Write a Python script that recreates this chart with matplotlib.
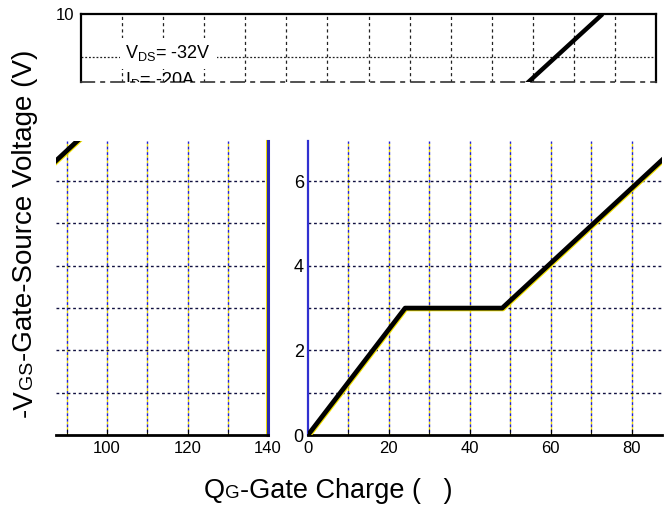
import matplotlib
matplotlib.use("Agg")
import matplotlib.pyplot as plt
import matplotlib.patheffects as pe
from matplotlib.transforms import IdentityTransform

plt.rcParams['font.family'] = ['Liberation Sans', 'DejaVu Sans']
plt.rcParams['mathtext.fontset'] = 'custom'
plt.rcParams['mathtext.rm'] = 'Liberation Sans'
plt.rcParams['mathtext.it'] = 'Liberation Sans'

# ---- data ----
gate_charge = [0, 24, 48, 127]      # nC
vgs = [0, 3, 3, 10]                 # V
left_xticks = [100, 120, 140]
left_xminor = [90, 110, 130]
right_xticks = [0, 20, 40, 60, 80]
right_xminor = [10, 30, 50, 70]
right_yticks = [0, 2, 4, 6]
grid_y = [1, 2, 3, 4, 5, 6]
top_grid_x = [10, 20, 30, 40, 50, 60, 70, 80, 90, 100, 110, 120, 130]
top_grid_y = [9]
vds_label = "V$_{\\rm DS}$= -32V"
id_label = "I$_{\\rm D}$= -20A"

W, H = 670, 509
fig = plt.figure(figsize=(W / 100, H / 100), dpi=100)

def px_axes(x0, y0, x1, y1):
    return fig.add_axes([x0 / W, 1 - y1 / H, (x1 - x0) / W, (y1 - y0) / H])

line_fx = [pe.SimpleLineShadow(offset=(0.6, -0.6), shadow_color='#f0e000', alpha=1.0), pe.Normal()]

# ---- top strip ----
ax_t = px_axes(81, 14, 656, 82)
ax_t.set_xlim(0, 140)
ax_t.set_ylim(8.4, 10.0)
for x in top_grid_x:
    ax_t.axvline(x, color='#222222', lw=0.9, ls=(0, (2.5, 2.5)), zorder=1)
for y in top_grid_y:
    ax_t.axhline(y, color='#222222', lw=0.9, ls=(0, (1.5, 1.5)), zorder=1)
ax_t.plot(gate_charge, vgs, color='black', lw=3.2, solid_capstyle='butt', zorder=3)
ax_t.set_xticks([])
ax_t.set_yticks([10])
ax_t.set_yticklabels(['10'], fontsize=12)
ax_t.tick_params(axis='y', length=0, pad=5)
for s in ['top', 'left', 'right']:
    ax_t.spines[s].set_linewidth(1.6)
    ax_t.spines[s].set_color('black')
ax_t.spines['bottom'].set_linestyle((0, (8, 4, 2, 4)))
ax_t.spines['bottom'].set_color('#333333')
ax_t.spines['bottom'].set_linewidth(1.2)
ax_t.text(10.8, 9.08, vds_label, fontsize=13, va='center', ha='left', zorder=4,
          bbox=dict(facecolor='white', edgecolor='none', pad=4))
ax_t.text(10.8, 8.45, id_label, fontsize=13, va='center', ha='left', zorder=4, clip_on=True)

def lower_panel(ax, xlim, xticks, xminor):
    ax.set_xlim(*xlim)
    ax.set_ylim(0, 6.95)
    for x in list(xticks) + list(xminor):
        if xlim[0] < x < xlim[1]:
            ax.axvline(x, color='#e8d800', lw=1.0, ls=(0, (2, 2)), zorder=1)
            ax.axvline(x, color='#2020d0', lw=1.0, ls=(2, (2, 2)), zorder=1)
    for y in grid_y:
        ax.axhline(y, color='#101040', lw=1.0, ls=(0, (2, 2)), zorder=1)
    ax.plot(gate_charge, vgs, color='black', lw=3.4, solid_capstyle='butt',
            zorder=3, path_effects=line_fx)
    ax.set_xticks(xticks)
    ax.set_xticks(xminor, minor=True)
    ax.tick_params(axis='x', which='both', direction='in', length=4, labelsize=12, pad=4)
    ax.spines['top'].set_visible(False)
    ax.spines['bottom'].set_linewidth(2.0)
    ax.spines['bottom'].set_color('black')

# ---- lower left (88..140) ----
ax_l = px_axes(56, 141, 268, 435)
lower_panel(ax_l, (87.3, 140), left_xticks, left_xminor)
ax_l.set_yticks([])
ax_l.spines['left'].set_visible(False)
ax_l.spines['right'].set_linewidth(2.2)
ax_l.spines['right'].set_color('#2a2ab0')
ax_l.spines['right'].set_path_effects(
    [pe.SimpleLineShadow(offset=(-0.8, 0), shadow_color='#f0e000', alpha=1.0), pe.Normal()])

# ---- lower right (0..88) ----
ax_r = px_axes(308, 141, 662, 435)
lower_panel(ax_r, (0, 87.5), right_xticks, right_xminor)
ax_r.set_yticks(right_yticks)
ax_r.tick_params(axis='y', direction='in', length=0, labelsize=13, pad=3)
ax_r.spines['right'].set_visible(False)
ax_r.spines['left'].set_linewidth(1.6)
ax_r.spines['left'].set_color('#3030d0')

# ---- axis labels built from pieces (small caps subscripts) ----
fig.canvas.draw()
renderer = fig.canvas.get_renderer()

def chained_label(pieces, anchor, rotation, center):
    texts = []
    pos = [0.0, 0.0]
    for s, size in pieces:
        t = fig.text(pos[0], pos[1], s, transform=IdentityTransform(), fontsize=size,
                     rotation=rotation, rotation_mode='anchor', ha='left', va='baseline')
        bb = t.get_window_extent(renderer)
        if rotation == 0:
            pos[0] = bb.x1
        else:
            pos[1] = bb.y1
        texts.append(t)
    total = pos[0] if rotation == 0 else pos[1]
    for t in texts:
        x, y = t.get_position()
        if rotation == 0:
            t.set_position((x + center - total / 2, anchor))
        else:
            t.set_position((anchor, y + center - total / 2))

chained_label([("Q", 19.5), ("G", 13.5), ("-Gate Charge (   )", 19.5)],
              anchor=H - 498, rotation=0, center=328)
chained_label([("-V", 20), ("GS", 14), ("-Gate-Source Voltage (V)", 20)],
              anchor=32, rotation=90, center=H - 233)

fig.savefig("out.png", dpi=100)
